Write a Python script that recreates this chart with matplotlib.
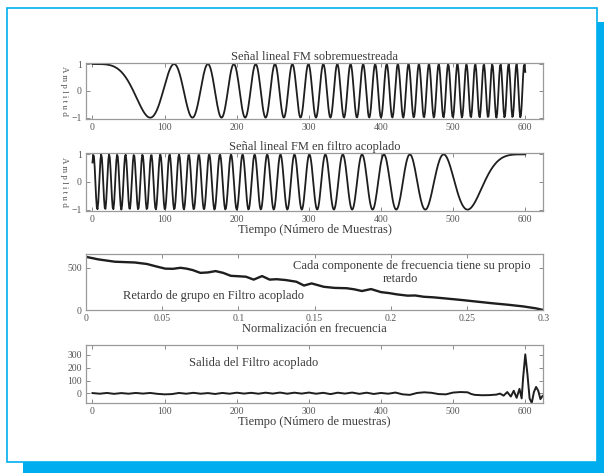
import numpy as np
import matplotlib
matplotlib.use("Agg")
import matplotlib.pyplot as plt
from matplotlib.patches import Rectangle

plt.rcParams['font.family'] = ['Liberation Serif', 'DejaVu Serif']

# ---------------- data ----------------
# Chirp parameters: first minimum of the oversampled
# linear FM signal at sample 80, signal length 600 samples.
chirp_first_min = 80
chirp_length = 600
samples = np.arange(0, chirp_length + 1)
chirp_signal = np.cos(np.pi * (samples / chirp_first_min) ** 2)
matched_signal = chirp_signal[::-1]

# Group delay of matched filter
gd_freq = [0.000, 0.008, 0.019, 0.032, 0.040, 0.047, 0.052, 0.057, 0.062,
           0.066, 0.070, 0.075, 0.080, 0.085, 0.090, 0.095, 0.100, 0.105,
           0.110, 0.1155, 0.1205, 0.125, 0.131, 0.138, 0.143, 0.148, 0.156,
           0.163, 0.171, 0.176, 0.181, 0.187, 0.1935, 0.199, 0.204, 0.211,
           0.216, 0.2215, 0.228, 0.234, 0.2467, 0.257, 0.267, 0.277, 0.287,
           0.295, 0.300]
gd_delay = [630, 600, 572, 563, 545, 512, 490, 488, 500,
            490, 473, 440, 445, 461, 440, 405, 400, 394,
            360, 402, 360, 365, 355, 335, 290, 315, 275,
            262, 258, 245, 225, 248, 212, 200, 185, 170,
            172, 157, 150, 140, 118, 98, 79, 62, 42,
            20, 0]

# Matched filter output
out_n = [0, 10, 20, 30, 40, 50, 60, 70, 80, 90, 100, 110, 120, 130, 140, 150,
         160, 170, 180, 190, 200, 210, 220, 230, 240, 250, 260, 270, 280, 290,
         300, 310, 320, 330, 340, 350, 360, 370, 380, 390, 400, 410, 420, 430,
         440, 450, 460, 470, 480, 490, 500, 510, 520, 525, 530, 540, 550, 560,
         565, 570, 575, 580, 584, 588, 592, 595, 597, 600, 603, 606, 609, 612,
         615, 618, 621, 624]
out_val = [2, -3, 3, -4, 2, -3, 3, -2, 3, -4, -8, -6, 3, -3, 4, -3,
           2, -5, 3, -3, 5, -2, 4, -3, 5, -2, 6, -3, 5, -2,
           6, -3, 4, -6, 5, -2, 6, -4, 5, -5, 3, -3, 6, -8,
           -12, 3, 8, 4, -6, -8, 6, 10, 8, -5, -12, -15, -14, -10,
           -2, -18, 10, -25, 20, -35, 35, -40, 120, 305, 150, -40, -75, 10,
           50, 20, -45, -20]

time_ticks = [0, 100, 200, 300, 400, 500, 600]
freq_ticks = [0, 0.05, 0.1, 0.15, 0.2, 0.25, 0.3]
freq_labels = ['0', '0.05', '0.1', '0.15', '0.2', '0.25', '0.3']

# ---------------- figure ----------------
W, H = 604, 473
fig = plt.figure(figsize=(W / 100, H / 100), dpi=100)
fig.patch.set_facecolor('white')

cyan = '#00AEEF'
def px_rect(x0, y0, x1, y1, **kw):
    r = Rectangle((x0 / W, 1 - y1 / H), (x1 - x0) / W, (y1 - y0) / H,
                  transform=fig.transFigure, **kw)
    fig.add_artist(r)

px_rect(597, 22.5, 604, 473, facecolor=cyan, edgecolor='none', zorder=0)
px_rect(23, 462, 604, 473, facecolor=cyan, edgecolor='none', zorder=0)
px_rect(7, 8.5, 597, 462, facecolor='white', edgecolor=cyan, lw=1.2, zorder=0)

def ax_at(x0, y0, x1, y1):
    return fig.add_axes([x0 / W, 1 - y1 / H, (x1 - x0) / W, (y1 - y0) / H])

txt = '#3a3a3a'
line_c = '#1e1e1e'
fs = 9

def style(ax):
    for s in ax.spines.values():
        s.set_color('#9a9a9a')
        s.set_linewidth(0.9)
    ax.tick_params(direction='in', top=True, right=True, length=3,
                   width=0.7, color='#8a8a8a', labelsize=7,
                   labelcolor='#555555', pad=3)
    ax.set_facecolor('none')

ax1 = ax_at(86, 62.7, 543.3, 119)
ax2 = ax_at(86, 153, 543.3, 211)
ax3 = ax_at(86, 254.3, 543.3, 310)
ax4 = ax_at(86, 344.5, 543.3, 403.3)

# Plot 1
ax1.plot(samples, chirp_signal, color=line_c, lw=1.3)
ax1.set_xlim(-9, 625)
ax1.set_ylim(-1.05, 1.05)
ax1.set_xticks(time_ticks)
ax1.set_yticks([-1, 0, 1])
ax1.set_title('Señal lineal FM sobremuestreada', fontsize=fs, color=txt, pad=2)
ax1.text(-0.049, 0.5, 'A m p l i t u d', transform=ax1.transAxes,
         rotation=270, ha='center', va='center', fontsize=6.5, color='#555555')
style(ax1)

# Plot 2
ax2.plot(samples, matched_signal, color=line_c, lw=1.3)
ax2.set_xlim(-9, 625)
ax2.set_ylim(-1.05, 1.05)
ax2.set_xticks(time_ticks)
ax2.set_yticks([-1, 0, 1])
ax2.set_title('Señal lineal FM en filtro acoplado', fontsize=fs, color=txt, pad=2)
ax2.set_xlabel('Tiempo (Número de Muestras)', fontsize=fs, color=txt, labelpad=0)
ax2.text(-0.049, 0.5, 'A m p l i t u d', transform=ax2.transAxes,
         rotation=270, ha='center', va='center', fontsize=6.5, color='#555555')
style(ax2)

# Plot 3
ax3.plot(gd_freq, gd_delay, color=line_c, lw=1.7)
ax3.set_xlim(0, 0.3)
ax3.set_ylim(0, 660)
ax3.set_xticks(freq_ticks)
ax3.set_xticklabels(freq_labels)
ax3.set_yticks([0, 500])
ax3.set_xlabel('Normalización en frecuencia', fontsize=fs, color=txt, labelpad=0)
ax3.text(0.1355, 518, 'Cada componente de frecuencia tiene su propio',
         fontsize=fs, color=txt, ha='left', va='center')
ax3.text(0.2065, 362, 'retardo', fontsize=fs, color=txt, ha='center', va='center')
ax3.text(0.024, 170, 'Retardo de grupo en Filtro acoplado',
         fontsize=fs, color=txt, ha='left', va='center')
style(ax3)

# Plot 4
ax4.plot(out_n, out_val, color=line_c, lw=1.4)
ax4.set_xlim(-9, 625)
ax4.set_ylim(-78, 382)
ax4.set_xticks(time_ticks)
ax4.set_yticks([0, 100, 200, 300])
ax4.set_xlabel('Tiempo (Número de muestras)', fontsize=fs, color=txt, labelpad=0)
ax4.text(134, 240, 'Salida del Filtro acoplado', fontsize=fs, color=txt,
         ha='left', va='center')
style(ax4)

fig.savefig('out.png', dpi=100)
